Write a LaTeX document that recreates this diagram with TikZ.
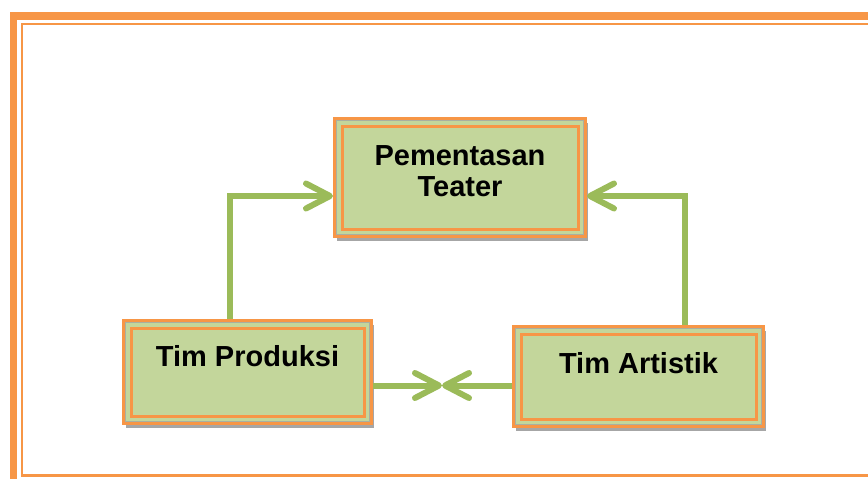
\documentclass[tikz,border=0pt]{standalone}
\usepackage{fontspec}
\setmainfont{Liberation Sans}
\usetikzlibrary{arrows.meta,shadows}

\definecolor{frameorange}{HTML}{F79646}
\definecolor{boxfill}{HTML}{C3D69B}
\definecolor{linkgreen}{HTML}{9BBB59}
\definecolor{shadowgray}{HTML}{A6A6A6}
\definecolor{edgegray}{HTML}{A9AFA0}

\tikzset{
  stagebox/.style={rectangle, draw=frameorange, line width=3pt, fill=boxfill,
    inner sep=0pt,
    general shadow={fill=shadowgray, shadow xshift=2pt, shadow yshift=-4.5pt}},
  boxlabel/.style={font=\bfseries\fontsize{29}{31}\selectfont, align=center,
    inner sep=0pt},
  innerframe/.style={draw=frameorange, line width=3pt},
  innergray/.style={draw=edgegray, line width=1.2pt},
  link/.style={draw=linkgreen, line width=6pt, line join=miter,
    -{Straight Barb[length=24pt,width=25pt,round]}},
}

\begin{document}
\begin{tikzpicture}[x=1pt,y=-1pt]
\useasboundingbox (0,0) rectangle (868,479);
\clip (0,0) rectangle (868,479);

% page frame: heavy outer rule and thin inner rule
\draw[frameorange, line width=7.5pt] (13.5,500) -- (13.5,16) -- (890,16);
\draw[frameorange, line width=2.5pt] (890,24) -- (22,24) -- (22,475.5) -- (890,475.5);

% boxes
\node[stagebox, minimum width=251pt, minimum height=118pt] (pt) at (460,177.5) {};
\node[stagebox, minimum width=248pt, minimum height=103pt] (tp) at (247.5,372) {};
\node[stagebox, minimum width=250pt, minimum height=100pt] (ta) at (638.5,376.5) {};

\foreach \n in {pt,tp,ta}{
  \draw[innergray] ([xshift=3.6pt,yshift=-3.6pt]\n.north west)
    rectangle ([xshift=-3.6pt,yshift=3.6pt]\n.south east);
  \draw[innerframe] ([xshift=9pt,yshift=-9pt]\n.north west)
    rectangle ([xshift=-9pt,yshift=9pt]\n.south east);
}

% labels
\node[boxlabel] (pt-text) at (460,171) {Pementasan\\Teater};
\node[boxlabel] (tp-text) at (247.5,356) {Tim Produksi};
\node[boxlabel] (ta-text) at (638.5,363) {Tim Artistik};

% connectors
\coordinate (meet) at (442,385.5);
\draw[link] ([xshift=-17.5pt]tp.north) |- ([yshift=-18.5pt]pt.west);
\draw[link] ([xshift=46pt]ta.north) |- ([yshift=-18.5pt]pt.east);
\draw[link] ([yshift=-13.5pt]tp.east) -- (meet);
\draw[link] ([yshift=-9pt]ta.west) -- (meet);
\end{tikzpicture}
\end{document}
